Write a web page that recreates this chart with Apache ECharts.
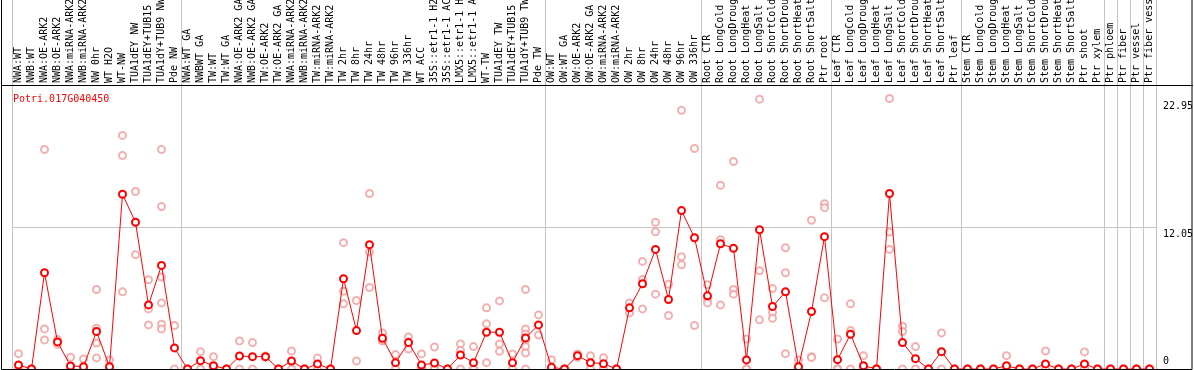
<!DOCTYPE html>
<html>
<head>
<meta charset="utf-8">
<script src="https://cdn.jsdelivr.net/npm/echarts@6/dist/echarts.min.js"></script>
<style>
html,body{margin:0;padding:0;background:#fff;}
#chart{width:1194px;height:370px;}
</style>
</head>
<body>
<div id="chart"></div>
<script>
const geneName = 'Potri.017G040450';

const categories = [
  'NWA:WT','NWB:WT','NWA:OE-ARK2','NWB:OE-ARK2','NWA:miRNA-ARK2','NWB:miRNA-ARK2','NW 0hr','WT H2O','WT-NW',
  'TUA1dEY NW','TUA1dEY+TUB15 NW','TUA1dY+TUB9 NW','Pde NW',
  'NWA:WT GA','NWBWT GA','TW:WT','TW:WT GA','NWA:OE-ARK2 GA','NWB:OE-ARK2 GA','TW:OE-ARK2','TW:OE-ARK2 GA',
  'NWA:miRNA-ARK2','NWB:miRNA-ARK2','TW:miRNA-ARK2','TW:miRNA-ARK2','TW 2hr','TW 8hr','TW 24hr','TW 48hr',
  'TW 96hr','TW 336hr','WT ACC','35S::etr1-1 H2O','35S::etr1-1 ACC','LMX5::etr1-1 H2O','LMX5::etr1-1 ACC',
  'WT-TW','TUA1dEY TW','TUA1dEY+TUB15 TW','TUA1dY+TUB9 TW','Pde TW',
  'OW:WT','OW:WT GA','OW:OE-ARK2','OW:OE-ARK2 GA','OW:miRNA-ARK2','OW:miRNA-ARK2','OW 2hr','OW 8hr','OW 24hr',
  'OW 48hr','OW 96hr','OW 336hr',
  'Root CTR','Root LongCold','Root LongDrought','Root LongHeat','Root LongSalt','Root ShortCold',
  'Root ShortDrought','Root ShortHeat','Root ShortSalt','Ptr root',
  'Leaf CTR','Leaf LongCold','Leaf LongDrought','Leaf LongHeat','Leaf LongSalt','Leaf ShortCold',
  'Leaf ShortDrought','Leaf ShortHeat','Leaf ShortSalt','Ptr leaf',
  'Stem CTR','Stem LongCold','Stem LongDrought','Stem LongHeat','Stem LongSalt','Stem ShortCold',
  'Stem ShortDrought','Stem ShortHeat','Stem ShortSalt','Ptr shoot','Ptr xylem',
  'Ptr phloem','Ptr fiber','Ptr vessel','Ptr fiber vessel'
];

// index of the first category of each group (vertical separators)
const groupStarts = [0, 13, 41, 53, 63, 73, 84, 85, 86, 87];

const means = [
  0.34, 0, 8.17, 2.30, 0.26, 0.20, 3.18, 0.20, 14.83, 12.45, 5.44, 8.79, 1.79,
  0, 0.71, 0.28, 0, 1.10, 1.05, 1.05, 0, 0.68, 0, 0.43, 0, 7.66, 3.26, 10.55, 2.61,
  0.54, 2.24, 0.34, 0.51, 0, 1.19, 0.54, 3.12, 3.12, 0.54, 2.64, 3.74,
  0.14, 0, 1.13, 0.54, 0.45, 0, 5.19, 7.23, 10.15, 5.90, 13.44, 11.14,
  6.21, 10.63, 10.24, 0.77, 11.82, 5.30, 6.55, 0.20, 4.88, 11.23,
  0.79, 2.95, 0.28, 0, 14.89, 2.24, 0.88, 0, 1.47, 0,
  0, 0, 0, 0.28, 0, 0, 0.43, 0, 0, 0.43, 0,
  0, 0, 0, 0
];

const replicates = [
  [1.3, 0], [0, 0], [18.63, 3.4, 2.47], [2.5, 2.1], [1.0, 0, 0], [0.85, 0, 0], [6.75, 3.46, 2.2, 0.94], [0.77, 0, 0],
  [19.82, 18.12, 6.55], [15.06, 9.7], [7.57, 5.1, 3.74], [18.63, 13.78, 7.8, 5.61, 3.8, 3.4], [3.69, 0],
  [0, 0], [1.47, 0], [1.05, 0, 0], [0, 0], [2.38, 0], [2.24, 0], [1.1, 1.0], [0, 0],
  [1.53, 0], [0, 0], [0.94, 0], [0, 0], [10.72, 6.6, 5.53], [5.81, 0.68], [14.89, 9.92, 6.92], [3.06, 2.41, 2.4],
  [1.22, 0], [2.72, 1.7, 2.3], [1.28, 0, 0], [1.87, 0, 0], [0, 0], [2.13, 1.56, 0], [1.9, 0, 0],
  [5.19, 3.83, 0.54], [5.78, 2.13, 1.5], [1.28, 0], [6.75, 3.4, 2.98, 2.41, 1.9, 1.36, 0], [4.59, 2.89],
  [0.79, 0, 0, 0], [0, 0], [1.28, 1.0], [1.13, 0], [0.96, 0], [0, 0], [5.61, 4.76], [9.13, 7.6, 5.1],
  [12.45, 11.65, 6.35], [7.2, 4.54], [21.95, 9.53, 8.85], [18.71, 3.69],
  [7.14, 5.95, 5.61], [15.59, 10.97, 5.44], [17.61, 6.75, 6.35], [2.55, 0, 0], [22.9, 8.34, 4.17],
  [6.83, 4.82, 4.31], [10.29, 8.17, 1.3], [0.77, 0, 0], [12.62, 1.05, 0.97], [14.03, 13.69, 6.04],
  [2.55, 0, 0], [5.53, 3.26, 0], [1.13, 0, 0], [0, 0], [22.95, 11.62, 10.15], [3.63, 3.18, 0],
  [1.9, 0], [0, 0], [3.06, 0], [0, 0],
  [0, 0], [0, 0], [0, 0], [1.13, 0, 0], [0, 0], [0, 0], [1.53, 0, 0], [0, 0], [0, 0], [1.45, 0, 0], [0, 0],
  [0, 0], [0, 0], [0, 0], [0, 0]
];

const yTickLabels = [0, 12.05, 22.95];
const yHalf = 12.05;
const yMaxValue = 22.95;
const yAxisMax = 24.1;

const MONO = 'DejaVu Sans Mono';
const GRID_GRAY = '#c4c4c4';

const repData = [];
replicates.forEach(function (vals, i) {
  vals.forEach(function (v) { repData.push([i, v]); });
});

function near(a, b) { return Math.abs(a - b) < 1e-6; }

const groupSplit = {
  show: true,
  interval: function (index) { return groupStarts.indexOf(index) >= 0; },
  lineStyle: { color: GRID_GRAY, width: 1 }
};

const chart = echarts.init(document.getElementById('chart'), null, { renderer: 'canvas' });

const baseY = {
  type: 'value', position: 'right', min: 0, max: yAxisMax, gridIndex: 1,
  axisLine: { show: false }, axisTick: { show: false },
  splitLine: { show: false }
};

chart.setOption({
  animation: false,
  backgroundColor: '#ffffff',
  title: {
    text: geneName, left: 8, top: 89,
    textStyle: { color: '#ff0000', fontSize: 10, fontWeight: 'normal', fontFamily: MONO }
  },
  grid: [
    { left: 12, right: 38, top: 0, height: 85, containLabel: false, outerBoundsMode: 'none' },
    { left: 12, right: 38, top: 85, bottom: 1, containLabel: false, outerBoundsMode: 'none' }
  ],
  xAxis: [
    {
      type: 'category', data: categories, gridIndex: 0, position: 'bottom',
      boundaryGap: true,
      axisLine: { show: false, onZero: false }, axisTick: { show: false }, axisLabel: { show: false },
      splitLine: groupSplit
    },
    {
      type: 'category', data: categories, gridIndex: 1, position: 'top',
      boundaryGap: true,
      axisLine: { show: false, onZero: false },
      axisTick: { show: false },
      axisLabel: {
        interval: 0, rotate: -90, margin: 2, fontSize: 10, fontFamily: MONO, color: '#000',
        hideOverlap: false
      },
      splitLine: groupSplit
    }
  ],
  yAxis: [
    { type: 'value', gridIndex: 0, min: 0, max: 1, show: false, splitLine: { show: false } },
    Object.assign({}, baseY, {
      interval: yHalf,
      axisLabel: {
        margin: 7, fontSize: 10, fontFamily: MONO, color: '#000', verticalAlign: 'top',
        padding: [2, 0, 0, 0],
        formatter: function (v) { return near(v, yTickLabels[1]) ? String(yTickLabels[1]) : ''; }
      },
      splitLine: { show: true, showMinLine: false, showMaxLine: false, lineStyle: { color: GRID_GRAY, width: 1 } }
    }),
    Object.assign({}, baseY, {
      interval: yMaxValue,
      axisLabel: {
        margin: 7, fontSize: 10, fontFamily: MONO, color: '#000', verticalAlign: 'top',
        padding: [3, 0, 0, 0],
        formatter: function (v) { return near(v, yTickLabels[2]) ? String(yTickLabels[2]) : ''; }
      }
    }),
    Object.assign({}, baseY, {
      interval: yHalf,
      axisLabel: {
        margin: 7, fontSize: 10, fontFamily: MONO, color: '#000', verticalAlign: 'bottom',
        padding: [0, 0, 3, 0],
        formatter: function (v) { return near(v, yTickLabels[0]) ? String(yTickLabels[0]) : ''; }
      }
    })
  ],
  series: [
    {
      type: 'scatter', name: 'replicates', data: repData, xAxisIndex: 1, yAxisIndex: 1,
      symbol: 'emptyCircle', symbolSize: 7,
      itemStyle: { color: '#f09c9c', borderColor: '#f09c9c', borderWidth: 1.2 },
      z: 2
    },
    {
      type: 'line', name: 'mean', data: means, xAxisIndex: 1, yAxisIndex: 1,
      symbol: 'emptyCircle', symbolSize: 7, showAllSymbol: true,
      lineStyle: { color: '#ff0000', width: 1 },
      itemStyle: { color: '#ff0000', borderColor: '#e00000', borderWidth: 1.3 },
      z: 3
    }
  ],
  graphic: [
    {
      type: 'rect', z: 100, silent: true,
      shape: { x: 1.5, y: -5, width: 1190.5, height: 374.5 },
      style: { fill: null, stroke: '#000', lineWidth: 1 }
    },
    {
      type: 'line', z: 100, silent: true,
      shape: { x1: 1, y1: 85.5, x2: 1193, y2: 85.5 },
      style: { stroke: '#000', lineWidth: 1 }
    }
  ]
});
</script>
</body>
</html>
